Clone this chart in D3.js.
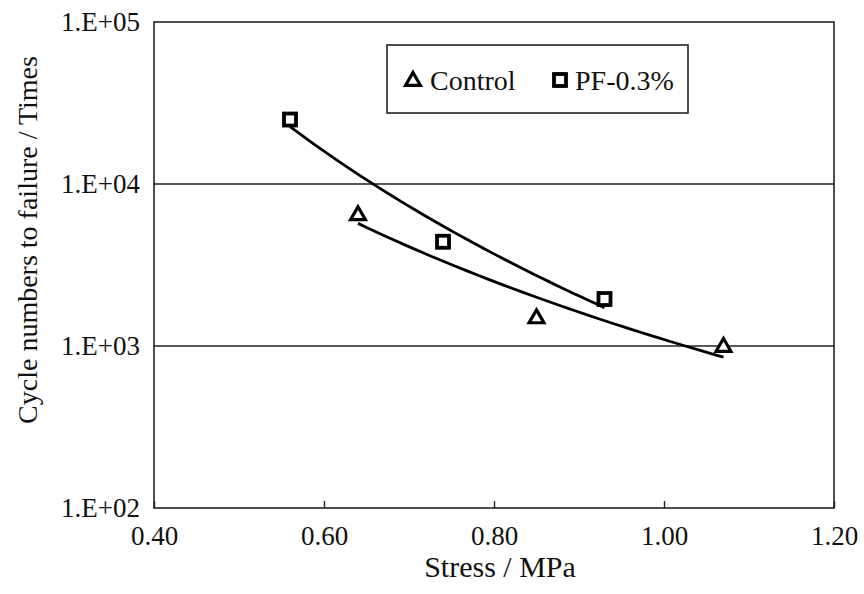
<style>body { margin: 0; } svg { display: block; }</style>
<svg width="864" height="594"></svg>
<script src="https://d3js.org/d3.v7.min.js"></script>
<script>
// data
var controlStress = [0.64, 0.85, 1.07];
var controlCycles = [6500, 1500, 1000];
var pfStress = [0.56, 0.74, 0.93];
var pfCycles = [25000, 4400, 1950];
var xTicks = [0.4, 0.6, 0.8, 1.0, 1.2];
var yTicks = [100, 1000, 10000, 100000];

var svg = d3.select("svg");
var font = "'Liberation Serif', 'Times New Roman', serif";
var plotL = 154, plotR = 834, plotT = 22, plotB = 508;

var x = d3.scaleLinear().domain([0.4, 1.2]).range([plotL, plotR]);
var y = d3.scaleLog().domain([100, 100000]).range([plotB, plotT]);

svg.append("rect").attr("width", 864).attr("height", 594).attr("fill", "#fff");

// gridlines
svg.append("g").selectAll("line")
  .data([1000, 10000]).enter().append("line")
  .attr("x1", plotL).attr("x2", plotR)
  .attr("y1", d => y(d)).attr("y2", d => y(d))
  .attr("stroke", "#222").attr("stroke-width", 1.4);

// x axis
var xAxis = d3.axisBottom(x).tickValues(xTicks)
  .tickFormat(d3.format(".2f")).tickSizeInner(-7).tickSizeOuter(0).tickPadding(18);
var gx = svg.append("g").attr("transform", "translate(0," + plotB + ")").call(xAxis);
gx.select(".domain").remove();
gx.selectAll(".tick line").attr("stroke", "#222").attr("stroke-width", 1.4);
gx.selectAll("text").attr("font-family", font).attr("font-size", 27).attr("fill", "#111");

// y axis
var yAxis = d3.axisLeft(y).tickValues(yTicks)
  .tickFormat(d => "1.E+" + d3.format("02d")(Math.round(Math.log10(d))))
  .tickSizeInner(0).tickSizeOuter(0).tickPadding(14);
var gy = svg.append("g").attr("transform", "translate(" + plotL + ",0)").call(yAxis);
gy.select(".domain").remove();
gy.selectAll("text").attr("font-family", font).attr("font-size", 27).attr("fill", "#111");

// frame
svg.append("rect").attr("x", plotL).attr("y", plotT)
  .attr("width", plotR - plotL).attr("height", plotB - plotT)
  .attr("fill", "none").attr("stroke", "#222").attr("stroke-width", 1.6);

// power trendlines  N = a * S^b
function powerFit(xs, ys) {
  var lx = xs.map(Math.log), ly = ys.map(Math.log);
  var mx = d3.mean(lx), my = d3.mean(ly);
  var sxy = d3.sum(lx, (v, i) => (v - mx) * (ly[i] - my));
  var sxx = d3.sum(lx, v => (v - mx) * (v - mx));
  var b = sxy / sxx, a = Math.exp(my - b * mx);
  return d3.range(0, 41).map(function(i) {
    var s = xs[0] + (xs[xs.length - 1] - xs[0]) * i / 40;
    return [s, a * Math.pow(s, b)];
  });
}
var line = d3.line().x(d => x(d[0])).y(d => y(d[1]));
[[controlStress, controlCycles], [pfStress, pfCycles]].forEach(function(s) {
  svg.append("path").attr("d", line(powerFit(s[0], s[1])))
    .attr("fill", "none").attr("stroke", "#000").attr("stroke-width", 2.8);
});

// markers
var tri = d3.symbol().type(d3.symbolTriangle).size(95);
svg.append("g").selectAll("path")
  .data(controlStress).enter().append("path")
  .attr("d", tri)
  .attr("transform", (d, i) => "translate(" + x(d) + "," + (y(controlCycles[i]) + 1) + ")")
  .attr("fill", "#fff").attr("stroke", "#000").attr("stroke-width", 3.2);

svg.append("g").selectAll("rect")
  .data(pfStress).enter().append("rect")
  .attr("x", d => x(d) - 6).attr("y", (d, i) => y(pfCycles[i]) - 6)
  .attr("width", 12).attr("height", 12)
  .attr("fill", "#fff").attr("stroke", "#000").attr("stroke-width", 3.8);

// legend
var lg = svg.append("g");
lg.append("rect").attr("x", 387).attr("y", 45).attr("width", 301).attr("height", 68)
  .attr("fill", "#fff").attr("stroke", "#222").attr("stroke-width", 1.6);
lg.append("path").attr("d", tri).attr("transform", "translate(413,81)")
  .attr("fill", "#fff").attr("stroke", "#000").attr("stroke-width", 3.2);
lg.append("text").attr("x", 430).attr("y", 90).text("Control")
  .attr("font-family", font).attr("font-size", 28).attr("fill", "#111");
lg.append("rect").attr("x", 554).attr("y", 74).attr("width", 12).attr("height", 12)
  .attr("fill", "#fff").attr("stroke", "#000").attr("stroke-width", 3.8);
lg.append("text").attr("x", 575).attr("y", 90).text("PF-0.3%")
  .attr("font-family", font).attr("font-size", 28).attr("fill", "#111");

// axis titles
svg.append("text").attr("x", 500).attr("y", 577)
  .attr("text-anchor", "middle").text("Stress / MPa")
  .attr("font-family", font).attr("font-size", 30).attr("fill", "#111");
svg.append("text").attr("transform", "translate(37,240) rotate(-90)")
  .attr("text-anchor", "middle").text("Cycle numbers to failure / Times")
  .attr("font-family", font).attr("font-size", 28).attr("fill", "#111");
</script>
